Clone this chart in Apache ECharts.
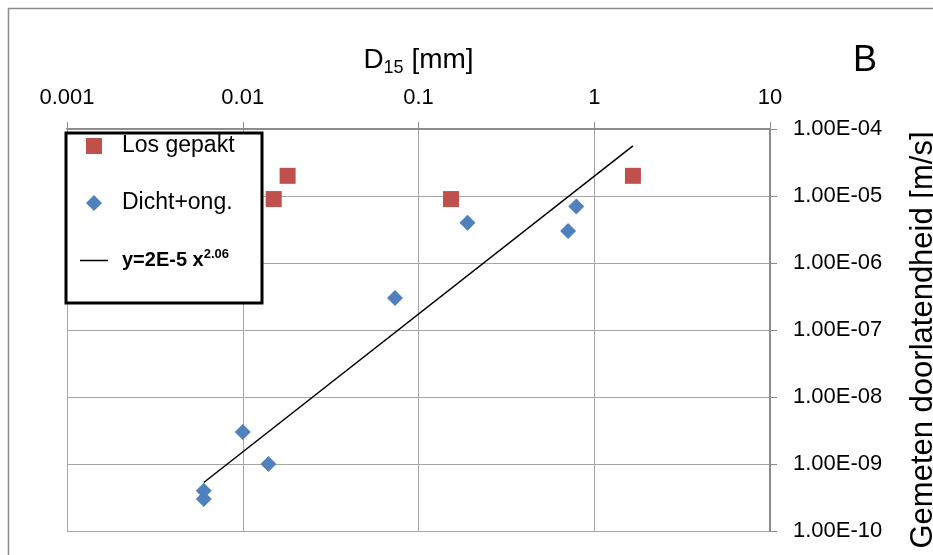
<!DOCTYPE html>
<html><head><meta charset="utf-8">
<script src="https://cdn.jsdelivr.net/npm/echarts@6/dist/echarts.min.js"></script>
<style>html,body{margin:0;padding:0;background:#fff}#c{width:933px;height:555px}</style>
</head><body><div id="c"></div>
<script>
const losX = [0.015, 0.018, 0.153, 1.66];
const losY = [9e-6, 2e-5, 9e-6, 2e-5];
const dichtX = [0.006, 0.006, 0.01, 0.014, 0.0735, 0.19, 0.71, 0.79];
const dichtY = [4e-10, 3e-10, 3e-9, 1e-9, 3e-7, 4e-6, 3e-6, 7e-6];
const trendX = [0.006, 1.66];
const trendY = [5.3e-10, 5.6e-5];
const xTickLabels = ['0.001', '0.01', '0.1', '1', '10'];
const yTickLabels = ['1.00E-10', '1.00E-09', '1.00E-08', '1.00E-07', '1.00E-06', '1.00E-05', '1.00E-04'];
const seriesNames = ['Los gepakt', 'Dicht+ong.', 'y=2E-5 x2.06'];

const F = 'Liberation Sans, Arial, sans-serif';
const zip = (xs, ys) => xs.map((x, i) => [x, ys[i]]);

const chart = echarts.init(document.getElementById('c'));
chart.setOption({
  animation: false,
  backgroundColor: '#fff',
  title: {
    text: 'B', left: 848, top: 38,
    textStyle: { fontSize: 36, fontWeight: 'normal', fontFamily: F, color: '#000' }
  },
  grid: { left: 67, right: 163, top: 129, bottom: 24, containLabel: false, outerBoundsMode: 'none' },
  graphic: [
    { type: 'rect', silent: true, z: 0, shape: { x: 8.5, y: 8.5, width: 1000, height: 1000 },
      style: { fill: 'none', stroke: '#8c8c8c', lineWidth: 1.5 } },
    { type: 'rect', silent: true, z: 3, shape: { x: 66, y: 133, width: 196, height: 170 },
      style: { fill: '#fff', stroke: '#000', lineWidth: 3 } }
  ],
  legend: {
    orient: 'vertical', left: 80, top: 134, padding: 0,
    itemWidth: 28, itemHeight: 16, itemGap: 33, symbolKeepAspect: true,
    textStyle: {
      fontSize: 23, color: '#000', fontFamily: F, lineHeight: 24, padding: [0, 0, 0, 9],
      rich: {
        b: { fontSize: 20, fontWeight: 'bold', fontFamily: F, color: '#000', lineHeight: 24 },
        sup: { fontSize: 13, fontWeight: 'bold', fontFamily: F, color: '#000', lineHeight: 24, padding: [0, 0, 12, 0] }
      }
    },
    formatter: function (name) {
      return name === seriesNames[2] ? '{b|y=2E-5 x}{sup|2.06}' : name;
    },
    data: [
      { name: seriesNames[0], icon: 'path://M0,0H16V16H0Z' },
      { name: seriesNames[1], icon: 'path://M8,0L16,8L8,16L0,8Z' },
      { name: seriesNames[2], icon: 'path://M0,0H28V1.5H0Z' }
    ]
  },
  xAxis: {
    type: 'log', logBase: 10, min: 0.001, max: 10, position: 'top',
    name: '{a|D}{s|15}{a| [mm]}', nameLocation: 'middle', nameGap: 52,
    nameTextStyle: {
      rich: {
        a: { fontSize: 28, fontFamily: F, color: '#000', lineHeight: 34, verticalAlign: 'middle' },
        s: { fontSize: 18, fontFamily: F, color: '#000', lineHeight: 18, verticalAlign: 'bottom' }
      }
    },
    axisLine: { show: true, lineStyle: { color: '#8c8c8c', width: 2 } },
    axisTick: { show: true, inside: false, length: 7, lineStyle: { color: '#8c8c8c', width: 1 } },
    axisLabel: {
      margin: 20, fontSize: 22, color: '#000', fontFamily: F,
      formatter: function (v) { return xTickLabels[Math.round(Math.log10(v)) + 3]; }
    },
    splitLine: { show: true, lineStyle: { color: '#a6a6a6', width: 1 } }
  },
  yAxis: {
    type: 'log', logBase: 10, min: 1e-10, max: 1e-4, position: 'right',
    name: 'Gemeten doorlatendheid [m/s]', nameLocation: 'middle', nameGap: 138,
    nameTextStyle: { fontSize: 31, fontFamily: F, color: '#000', padding: [0, 20, 0, 0] },
    axisLine: { show: true, lineStyle: { color: '#8c8c8c', width: 2 } },
    axisTick: { show: true, inside: false, length: 7, lineStyle: { color: '#8c8c8c', width: 1 } },
    axisLabel: {
      margin: 23, fontSize: 22, color: '#000', fontFamily: F, align: 'left',
      formatter: function (v) { return yTickLabels[Math.round(Math.log10(v)) + 10]; }
    },
    splitLine: { show: true, lineStyle: { color: '#a6a6a6', width: 1 } }
  },
  series: [
    { name: seriesNames[0], type: 'scatter', symbol: 'rect', symbolSize: 16,
      itemStyle: { color: '#C0504D', opacity: 1 }, data: zip(losX, losY), z: 3 },
    { name: seriesNames[1], type: 'scatter', symbol: 'diamond', symbolSize: 16,
      itemStyle: { color: '#4F81BD', opacity: 1 }, data: zip(dichtX, dichtY), z: 3 },
    { name: seriesNames[2], type: 'line', symbol: 'none', showSymbol: false,
      lineStyle: { color: '#000', width: 1.5 }, itemStyle: { color: '#000' },
      data: zip(trendX, trendY), z: 2 }
  ]
});
</script></body></html>
